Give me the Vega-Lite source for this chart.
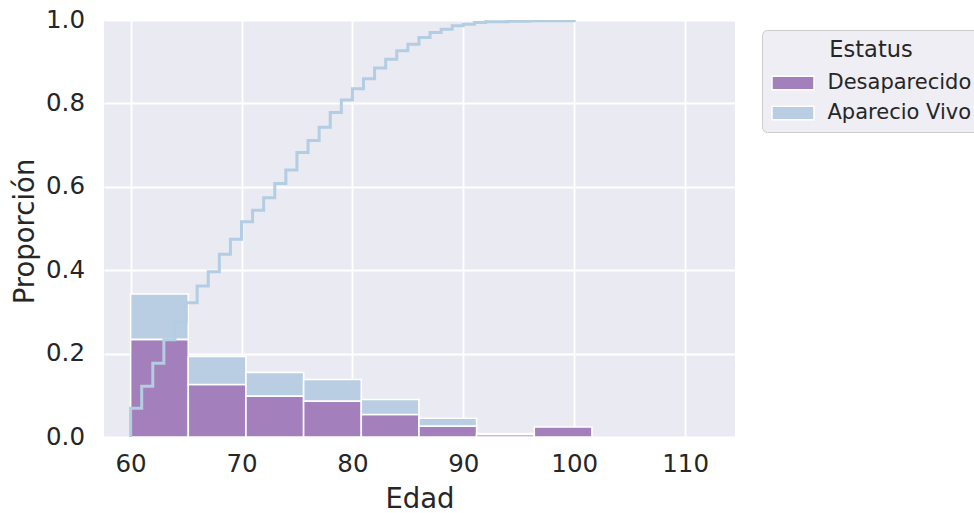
{
  "$schema": "https://vega.github.io/schema/vega-lite/v6.json",
  "autosize": {"type": "none"},
  "width": 631,
  "height": 417,
  "padding": {"left": 104, "top": 20, "right": 239, "bottom": 76},
  "background": "white",
  "config": {
    "font": "DejaVu Sans",
    "view": {"fill": "#eaeaf2", "stroke": null},
    "axis": {
      "domain": false,
      "ticks": false,
      "grid": true,
      "gridColor": "white",
      "gridWidth": 1.8,
      "labelColor": "#262626",
      "labelFont": "DejaVu Sans",
      "labelFontSize": 24.5,
      "titleColor": "#262626",
      "titleFont": "DejaVu Sans",
      "titleFontSize": 27.5,
      "titleFontWeight": "normal"
    }
  },
  "layer": [
    {
      "data": {
        "values": [
          {"Estatus": "Desaparecido", "inicio": 60, "fin": 65.2, "prop": 0.234},
          {"Estatus": "Desaparecido", "inicio": 65.2, "fin": 70.4, "prop": 0.126},
          {"Estatus": "Desaparecido", "inicio": 70.4, "fin": 75.6, "prop": 0.098},
          {"Estatus": "Desaparecido", "inicio": 75.6, "fin": 80.8, "prop": 0.086},
          {"Estatus": "Desaparecido", "inicio": 80.8, "fin": 86.0, "prop": 0.054},
          {"Estatus": "Desaparecido", "inicio": 86.0, "fin": 91.2, "prop": 0.026},
          {"Estatus": "Desaparecido", "inicio": 91.2, "fin": 96.4, "prop": 0.006},
          {"Estatus": "Desaparecido", "inicio": 96.4, "fin": 101.6, "prop": 0.024},
          {"Estatus": "Aparecio Vivo", "inicio": 60, "fin": 65.2, "prop": 0.109},
          {"Estatus": "Aparecio Vivo", "inicio": 65.2, "fin": 70.4, "prop": 0.067},
          {"Estatus": "Aparecio Vivo", "inicio": 70.4, "fin": 75.6, "prop": 0.057},
          {"Estatus": "Aparecio Vivo", "inicio": 75.6, "fin": 80.8, "prop": 0.052},
          {"Estatus": "Aparecio Vivo", "inicio": 80.8, "fin": 86.0, "prop": 0.036},
          {"Estatus": "Aparecio Vivo", "inicio": 86.0, "fin": 91.2, "prop": 0.019},
          {"Estatus": "Aparecio Vivo", "inicio": 91.2, "fin": 96.4, "prop": 0.002}
        ]
      },
      "transform": [
        {"stack": "prop", "groupby": ["inicio"], "sort": [{"field": "Estatus", "order": "descending"}], "as": ["p0", "p1"]}
      ],
      "mark": {"type": "rect", "stroke": "white", "strokeWidth": 1.6, "opacity": 1},
      "encoding": {
        "x": {
          "field": "inicio",
          "type": "quantitative",
          "scale": {"domain": [57.6, 114.5], "nice": false, "zero": false},
          "axis": {
            "title": "Edad",
            "values": [60, 70, 80, 90, 100, 110],
            "labelPadding": 15,
            "titleBaseline": "alphabetic",
            "titleY": 70
          }
        },
        "x2": {"field": "fin"},
        "y": {
          "field": "p1",
          "type": "quantitative",
          "scale": {"domain": [0, 1], "nice": false},
          "axis": {
            "title": "Proporción",
            "values": [0, 0.2, 0.4, 0.6, 0.8, 1.0],
            "format": ".1f",
            "labelPadding": 19.5,
            "titleAngle": -90,
            "titleBaseline": "alphabetic",
            "titleX": -71,
            "titleY": 211
          }
        },
        "y2": {"field": "p0"},
        "color": {
          "field": "Estatus",
          "type": "nominal",
          "scale": {"domain": ["Desaparecido", "Aparecio Vivo"], "range": ["#a37fbc", "#b9cee2"]},
          "legend": {
            "orient": "none",
            "legendX": 658,
            "legendY": 10,
            "title": "Estatus",
            "titleFontSize": 22.5,
            "titleFontWeight": "normal",
            "titleColor": "#262626",
            "titleAnchor": "middle",
            "titlePadding": 10,
            "labelFontSize": 21,
            "labelColor": "#262626",
            "labelOffset": 23,
            "rowPadding": 8,
            "padding": 9,
            "fillColor": "#eeeef4",
            "strokeColor": "#cccccc",
            "cornerRadius": 5,
            "symbolType": "M-2,-0.64H2V0.64H-2Z",
            "symbolSize": 441,
            "symbolOffset": 10.5,
            "symbolStrokeColor": "white",
            "symbolStrokeWidth": 1.5,
            "symbolOpacity": 1
          }
        }
      }
    },
    {
      "data": {
        "values": [
          {"edad": 60, "acumulado": 0.0},
          {"edad": 60, "acumulado": 0.069},
          {"edad": 61, "acumulado": 0.122},
          {"edad": 62, "acumulado": 0.177},
          {"edad": 63, "acumulado": 0.233},
          {"edad": 64, "acumulado": 0.276},
          {"edad": 65, "acumulado": 0.322},
          {"edad": 66, "acumulado": 0.362},
          {"edad": 67, "acumulado": 0.396},
          {"edad": 68, "acumulado": 0.438},
          {"edad": 69, "acumulado": 0.474},
          {"edad": 70, "acumulado": 0.516},
          {"edad": 71, "acumulado": 0.544},
          {"edad": 72, "acumulado": 0.574},
          {"edad": 73, "acumulado": 0.608},
          {"edad": 74, "acumulado": 0.64},
          {"edad": 75, "acumulado": 0.682},
          {"edad": 76, "acumulado": 0.711},
          {"edad": 77, "acumulado": 0.743},
          {"edad": 78, "acumulado": 0.778},
          {"edad": 79, "acumulado": 0.808},
          {"edad": 80, "acumulado": 0.835},
          {"edad": 81, "acumulado": 0.859},
          {"edad": 82, "acumulado": 0.885},
          {"edad": 83, "acumulado": 0.906},
          {"edad": 84, "acumulado": 0.926},
          {"edad": 85, "acumulado": 0.942},
          {"edad": 86, "acumulado": 0.958},
          {"edad": 87, "acumulado": 0.97},
          {"edad": 88, "acumulado": 0.978},
          {"edad": 89, "acumulado": 0.986},
          {"edad": 90, "acumulado": 0.99},
          {"edad": 91, "acumulado": 0.994},
          {"edad": 92, "acumulado": 0.996},
          {"edad": 94, "acumulado": 0.997},
          {"edad": 96, "acumulado": 0.998},
          {"edad": 100, "acumulado": 1.0}
        ]
      },
      "mark": {"type": "line", "interpolate": "step-after", "color": "#b3cde3", "strokeWidth": 3, "clip": true},
      "encoding": {
        "x": {"field": "edad", "type": "quantitative"},
        "y": {"field": "acumulado", "type": "quantitative"}
      }
    }
  ]
}
